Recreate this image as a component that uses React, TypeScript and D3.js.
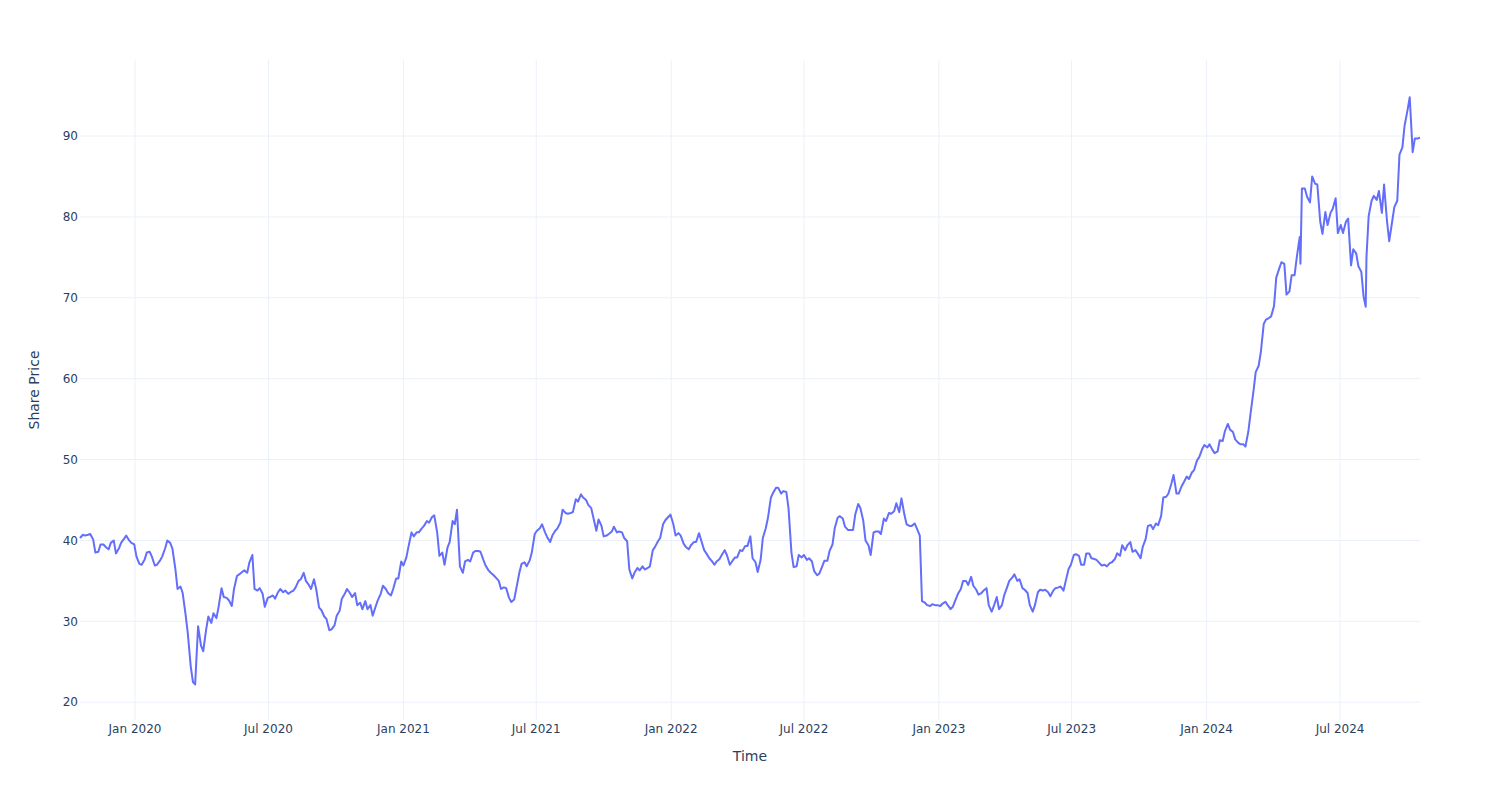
import React from "react";
import * as d3 from "d3";

// Trading dates (twice-weekly samples, Tue/Fri), one month per line
const dates: string[] = [
  "2019-10-18","2019-10-22","2019-10-25","2019-10-29",
  "2019-11-01","2019-11-05","2019-11-08","2019-11-12","2019-11-15","2019-11-19","2019-11-22","2019-11-26","2019-11-29",
  "2019-12-03","2019-12-06","2019-12-10","2019-12-13","2019-12-17","2019-12-20","2019-12-24","2019-12-27","2019-12-31",
  "2020-01-03","2020-01-07","2020-01-10","2020-01-14","2020-01-17","2020-01-21","2020-01-24","2020-01-28","2020-01-31",
  "2020-02-04","2020-02-07","2020-02-11","2020-02-14","2020-02-18","2020-02-21","2020-02-25","2020-02-28",
  "2020-03-03","2020-03-06","2020-03-10","2020-03-13","2020-03-17","2020-03-20","2020-03-23","2020-03-27","2020-03-31",
  "2020-04-03","2020-04-07","2020-04-10","2020-04-14","2020-04-17","2020-04-21","2020-04-24","2020-04-28",
  "2020-05-01","2020-05-05","2020-05-08","2020-05-12","2020-05-15","2020-05-19","2020-05-22","2020-05-26","2020-05-29",
  "2020-06-02","2020-06-05","2020-06-09","2020-06-12","2020-06-16","2020-06-19","2020-06-23","2020-06-26","2020-06-30",
  "2020-07-03","2020-07-07","2020-07-10","2020-07-14","2020-07-17","2020-07-21","2020-07-24","2020-07-28","2020-07-31",
  "2020-08-04","2020-08-07","2020-08-11","2020-08-14","2020-08-18","2020-08-21","2020-08-25","2020-08-28",
  "2020-09-01","2020-09-04","2020-09-08","2020-09-11","2020-09-15","2020-09-18","2020-09-22","2020-09-25","2020-09-29",
  "2020-10-02","2020-10-06","2020-10-09","2020-10-13","2020-10-16","2020-10-20","2020-10-23","2020-10-27","2020-10-30",
  "2020-11-03","2020-11-06","2020-11-10","2020-11-13","2020-11-17","2020-11-20","2020-11-24","2020-11-27",
  "2020-12-01","2020-12-04","2020-12-08","2020-12-11","2020-12-15","2020-12-18","2020-12-22","2020-12-25","2020-12-29",
  "2021-01-01","2021-01-05","2021-01-08","2021-01-12","2021-01-15","2021-01-19","2021-01-22","2021-01-26","2021-01-29",
  "2021-02-02","2021-02-05","2021-02-09","2021-02-12","2021-02-16","2021-02-19","2021-02-23","2021-02-26",
  "2021-03-02","2021-03-05","2021-03-09","2021-03-12","2021-03-15","2021-03-19","2021-03-23","2021-03-26","2021-03-30",
  "2021-04-02","2021-04-06","2021-04-09","2021-04-13","2021-04-16","2021-04-20","2021-04-23","2021-04-27","2021-04-30",
  "2021-05-04","2021-05-07","2021-05-11","2021-05-14","2021-05-18","2021-05-21","2021-05-25","2021-05-28",
  "2021-06-01","2021-06-04","2021-06-08","2021-06-11","2021-06-15","2021-06-18","2021-06-22","2021-06-25","2021-06-29",
  "2021-07-02","2021-07-06","2021-07-09","2021-07-13","2021-07-16","2021-07-20","2021-07-23","2021-07-27","2021-07-30",
  "2021-08-03","2021-08-06","2021-08-10","2021-08-13","2021-08-17","2021-08-20","2021-08-24","2021-08-27","2021-08-31",
  "2021-09-03","2021-09-07","2021-09-10","2021-09-14","2021-09-17","2021-09-21","2021-09-24","2021-09-28",
  "2021-10-01","2021-10-05","2021-10-08","2021-10-12","2021-10-15","2021-10-19","2021-10-22","2021-10-26","2021-10-29",
  "2021-11-02","2021-11-05","2021-11-09","2021-11-12","2021-11-16","2021-11-19","2021-11-23","2021-11-26","2021-11-30",
  "2021-12-03","2021-12-07","2021-12-10","2021-12-14","2021-12-17","2021-12-21","2021-12-24","2021-12-28","2021-12-31",
  "2022-01-04","2022-01-07","2022-01-11","2022-01-14","2022-01-18","2022-01-21","2022-01-25","2022-01-28",
  "2022-02-01","2022-02-04","2022-02-08","2022-02-11","2022-02-15","2022-02-18","2022-02-22","2022-02-25",
  "2022-03-01","2022-03-04","2022-03-08","2022-03-11","2022-03-15","2022-03-18","2022-03-22","2022-03-25","2022-03-29",
  "2022-04-01","2022-04-05","2022-04-08","2022-04-12","2022-04-15","2022-04-19","2022-04-22","2022-04-26","2022-04-29",
  "2022-05-03","2022-05-06","2022-05-10","2022-05-13","2022-05-17","2022-05-20","2022-05-24","2022-05-27","2022-05-31",
  "2022-06-03","2022-06-07","2022-06-10","2022-06-14","2022-06-17","2022-06-21","2022-06-24","2022-06-28",
  "2022-07-01","2022-07-05","2022-07-08","2022-07-12","2022-07-15","2022-07-19","2022-07-22","2022-07-26","2022-07-29",
  "2022-08-02","2022-08-05","2022-08-09","2022-08-12","2022-08-16","2022-08-19","2022-08-23","2022-08-26","2022-08-30",
  "2022-09-02","2022-09-06","2022-09-09","2022-09-13","2022-09-16","2022-09-20","2022-09-23","2022-09-27","2022-09-30",
  "2022-10-04","2022-10-07","2022-10-11","2022-10-14","2022-10-18","2022-10-21","2022-10-25","2022-10-28",
  "2022-11-01","2022-11-04","2022-11-08","2022-11-11","2022-11-15","2022-11-18","2022-11-22","2022-11-25","2022-11-29",
  "2022-12-02","2022-12-06","2022-12-09","2022-12-13","2022-12-16","2022-12-20","2022-12-23","2022-12-27","2022-12-30",
  "2023-01-03","2023-01-06","2023-01-10","2023-01-13","2023-01-17","2023-01-20","2023-01-24","2023-01-27","2023-01-31",
  "2023-02-03","2023-02-07","2023-02-10","2023-02-14","2023-02-17","2023-02-21","2023-02-24","2023-02-28",
  "2023-03-03","2023-03-07","2023-03-10","2023-03-14","2023-03-17","2023-03-21","2023-03-24","2023-03-28","2023-03-31",
  "2023-04-04","2023-04-07","2023-04-11","2023-04-14","2023-04-18","2023-04-21","2023-04-25","2023-04-28",
  "2023-05-02","2023-05-05","2023-05-09","2023-05-12","2023-05-16","2023-05-19","2023-05-23","2023-05-26","2023-05-30",
  "2023-06-02","2023-06-06","2023-06-09","2023-06-13","2023-06-16","2023-06-20","2023-06-23","2023-06-27","2023-06-30",
  "2023-07-04","2023-07-07","2023-07-11","2023-07-14","2023-07-18","2023-07-21","2023-07-25","2023-07-28",
  "2023-08-01","2023-08-04","2023-08-08","2023-08-11","2023-08-15","2023-08-18","2023-08-22","2023-08-25","2023-08-29",
  "2023-09-01","2023-09-05","2023-09-08","2023-09-12","2023-09-15","2023-09-19","2023-09-22","2023-09-26","2023-09-29",
  "2023-10-03","2023-10-06","2023-10-10","2023-10-13","2023-10-17","2023-10-20","2023-10-24","2023-10-27","2023-10-31",
  "2023-11-03","2023-11-07","2023-11-10","2023-11-14","2023-11-17","2023-11-21","2023-11-24","2023-11-28",
  "2023-12-01","2023-12-05","2023-12-08","2023-12-12","2023-12-15","2023-12-19","2023-12-22","2023-12-26","2023-12-29",
  "2024-01-02","2024-01-05","2024-01-09","2024-01-12","2024-01-16","2024-01-19","2024-01-23","2024-01-26","2024-01-30",
  "2024-02-02","2024-02-06","2024-02-09","2024-02-13","2024-02-16","2024-02-20","2024-02-23","2024-02-27",
  "2024-03-01","2024-03-05","2024-03-08","2024-03-12","2024-03-15","2024-03-19","2024-03-22","2024-03-26","2024-03-29",
  "2024-04-02","2024-04-05","2024-04-09","2024-04-12","2024-04-16","2024-04-19","2024-04-23","2024-04-26","2024-04-30",
  "2024-05-03","2024-05-07","2024-05-08","2024-05-10","2024-05-14","2024-05-17","2024-05-21","2024-05-24","2024-05-28","2024-05-31",
  "2024-06-04","2024-06-07","2024-06-11","2024-06-14","2024-06-18","2024-06-21","2024-06-25","2024-06-28",
  "2024-07-02","2024-07-05","2024-07-09","2024-07-12","2024-07-16","2024-07-19","2024-07-23","2024-07-26","2024-07-30",
  "2024-08-02","2024-08-05","2024-08-06","2024-08-09","2024-08-13","2024-08-16","2024-08-20","2024-08-23","2024-08-27","2024-08-30",
  "2024-09-03","2024-09-06","2024-09-10","2024-09-13","2024-09-17","2024-09-20","2024-09-24","2024-09-27",
  "2024-10-01","2024-10-04","2024-10-08","2024-10-11","2024-10-15","2024-10-18"
];

// Share prices, same layout as dates
const prices: number[] = [
  40.3,40.7,40.6,40.7,
  40.8,40.1,38.5,38.6,39.5,39.5,39.2,38.9,39.7,
  40.0,38.4,39.0,39.7,40.2,40.6,40.0,39.7,39.5,
  38.0,37.1,37.0,37.6,38.5,38.6,38.0,36.9,37.0,
  37.5,38.0,39.0,40.0,39.7,39.0,36.5,34.0,
  34.3,33.5,30.8,28.5,24.4,22.5,22.2,29.4,27.0,
  26.3,29.0,30.6,29.8,31.0,30.4,31.8,34.1,
  33.0,32.9,32.6,31.9,34.0,35.6,35.8,36.1,36.3,
  36.0,37.3,38.2,34.0,33.8,34.1,33.4,31.8,32.9,
  33.0,33.2,32.8,33.6,34.0,33.6,33.8,33.4,33.6,
  33.8,34.2,35.0,35.2,36.0,35.0,34.5,34.0,
  35.2,34.0,31.7,31.4,30.6,30.3,28.9,29.0,29.5,
  30.7,31.3,32.8,33.4,34.0,33.5,33.0,33.5,32.0,
  32.3,31.5,32.5,31.5,32.0,30.7,31.8,32.6,
  33.4,34.4,34.0,33.5,33.2,34.0,35.3,35.3,37.4,
  36.9,37.9,39.3,41.0,40.5,41.0,41.0,41.5,41.8,
  42.4,42.2,42.9,43.1,41.0,38.1,38.5,37.0,
  39.1,39.8,42.4,42.0,43.8,36.8,36.0,37.4,37.6,
  37.4,38.5,38.7,38.7,38.6,37.6,36.9,36.3,36.0,
  35.7,35.4,35.0,34.0,34.2,34.1,32.9,32.4,
  32.7,34.1,36.0,37.1,37.3,36.8,37.5,38.5,40.8,
  41.2,41.5,42.0,41.0,40.4,39.8,40.6,41.2,41.5,
  42.2,43.8,43.4,43.3,43.4,43.5,45.1,44.8,45.7,
  45.3,45.0,44.4,44.0,42.8,41.2,42.6,41.8,
  40.5,40.6,40.8,41.1,41.7,41.0,41.1,41.0,40.3,
  39.9,36.4,35.3,36.0,36.6,36.3,36.8,36.4,36.6,
  36.8,38.8,39.2,39.9,40.3,42.0,42.5,42.9,43.2,
  42.0,40.6,40.9,40.6,39.6,39.2,38.9,39.4,
  39.8,39.8,40.9,40.0,38.8,38.4,37.8,37.5,
  37.0,37.4,37.7,38.2,38.8,38.2,37.0,37.4,37.9,
  37.9,38.8,38.7,39.3,39.3,40.5,37.8,37.3,36.1,
  37.6,40.3,41.5,42.8,45.3,45.9,46.5,46.5,45.8,
  46.1,46.0,44.0,38.5,36.7,36.8,38.2,37.9,
  38.2,37.6,37.8,37.4,36.2,35.7,35.9,36.8,37.5,
  37.5,38.7,39.5,41.5,42.8,43.0,42.7,41.7,41.3,
  41.3,41.3,43.2,44.5,44.0,42.4,40.0,39.4,38.2,
  41.0,41.1,41.1,40.8,42.7,42.4,43.4,43.3,
  43.6,44.6,43.5,45.2,43.2,42.0,41.8,41.8,42.1,
  41.5,40.6,32.5,32.3,32.0,31.9,32.1,32.0,32.0,
  31.9,32.2,32.4,32.0,31.5,31.8,32.7,33.4,34.0,
  35.0,35.0,34.5,35.5,34.4,33.9,33.3,33.5,
  33.8,34.1,32.0,31.2,31.9,33.0,31.5,32.0,33.2,
  34.2,35.0,35.4,35.8,35.0,35.2,34.1,33.9,
  33.5,32.0,31.2,32.0,33.6,33.9,33.8,33.9,33.6,
  33.1,33.8,34.1,34.2,34.3,33.8,35.0,36.5,37.0,
  38.2,38.3,38.1,37.0,37.0,38.4,38.4,37.8,
  37.7,37.6,37.2,36.9,37.0,36.8,37.2,37.3,37.7,
  38.4,38.1,39.4,38.8,39.4,39.8,38.6,38.8,38.4,
  37.8,39.2,40.2,41.8,41.9,41.4,42.1,41.9,43.0,
  45.3,45.4,45.8,47.0,48.1,45.8,45.8,46.7,
  47.2,47.9,47.6,48.4,48.7,49.9,50.3,51.3,51.8,
  51.5,51.9,51.2,50.8,51.0,52.4,52.3,53.5,54.4,
  53.7,53.4,52.5,52.1,51.9,51.9,51.6,53.5,
  55.7,58.5,60.8,61.6,63.3,66.8,67.3,67.5,67.7,
  69.0,72.5,73.6,74.4,74.2,70.4,70.8,72.8,72.8,
  75.0,77.5,74.2,83.5,83.5,82.5,81.8,85.0,84.1,84.0,
  79.4,77.9,80.6,79.0,80.5,81.0,82.3,78.0,
  79.0,78.0,79.4,79.8,74.0,76.0,75.5,73.9,73.2,
  70.2,68.9,75.0,80.1,82.0,82.6,82.1,83.2,80.5,84.0,
  79.5,77.0,79.4,81.2,82.0,87.7,88.6,91.3,
  93.2,94.8,88.0,89.7,89.7,89.8
];

const yTicks: number[] = [20, 30, 40, 50, 60, 70, 80, 90];
const xTicks: string[] = [
  "2020-01-01","2020-07-01","2021-01-01","2021-07-01","2022-01-01",
  "2022-07-01","2023-01-01","2023-07-01","2024-01-01","2024-07-01"
];
const xTitle = "Time";
const yTitle = "Share Price";

const W = 1500;
const H = 800;
const M = { left: 80, right: 80, top: 60, bottom: 80 };
const FONT = "'DejaVu Sans', Verdana, sans-serif";
const TEXT = "#2a3f5f";
const GRID = "#ebf0f8";

export default function App() {
  const parse = d3.timeParse("%Y-%m-%d");
  const n = Math.min(dates.length, prices.length);
  const pts = dates.slice(0, n).map((d, i) => ({ d: parse(d) as Date, v: prices[i] }));
  const x = d3
    .scaleTime()
    .domain(d3.extent(pts, (p) => p.d) as [Date, Date])
    .range([M.left, W - M.right]);
  const y = d3.scaleLinear().domain([17.8, 99.4]).range([H - M.bottom, M.top]);
  const line = d3
    .line<{ d: Date; v: number }>()
    .x((p) => x(p.d))
    .y((p) => y(p.v));
  const fmt = d3.timeFormat("%b %Y");
  const xt = xTicks.map((s) => parse(s) as Date);

  return (
    <svg
      width={W}
      height={H}
      style={{ position: "absolute", left: 0, top: 0, background: "#fff" }}
      fontFamily={FONT}
    >
      <rect x={0} y={0} width={W} height={H} fill="#fff" />
      {xt.map((t, i) => (
        <line key={"xg" + i} x1={x(t)} x2={x(t)} y1={M.top} y2={H - M.bottom} stroke={GRID} strokeWidth={1} />
      ))}
      {yTicks.map((t) => (
        <line key={"yg" + t} x1={M.left} x2={W - M.right} y1={y(t)} y2={y(t)} stroke={GRID} strokeWidth={1} />
      ))}
      <path d={line(pts) || ""} fill="none" stroke="#636efa" strokeWidth={2} strokeLinejoin="round" />
      {xt.map((t, i) => (
        <text key={"xl" + i} x={x(t)} y={733} textAnchor="middle" fontSize={12} fill={TEXT}>
          {fmt(t)}
        </text>
      ))}
      {yTicks.map((t) => (
        <text key={"yl" + t} x={78} y={y(t)} dy="0.35em" textAnchor="end" fontSize={12} fill={TEXT}>
          {t}
        </text>
      ))}
      <text x={(M.left + W - M.right) / 2} y={761} textAnchor="middle" fontSize={14} fill={TEXT}>
        {xTitle}
      </text>
      <text
        transform={`translate(39, ${(M.top + H - M.bottom) / 2}) rotate(-90)`}
        textAnchor="middle"
        fontSize={14}
        fill={TEXT}
      >
        {yTitle}
      </text>
    </svg>
  );
}
